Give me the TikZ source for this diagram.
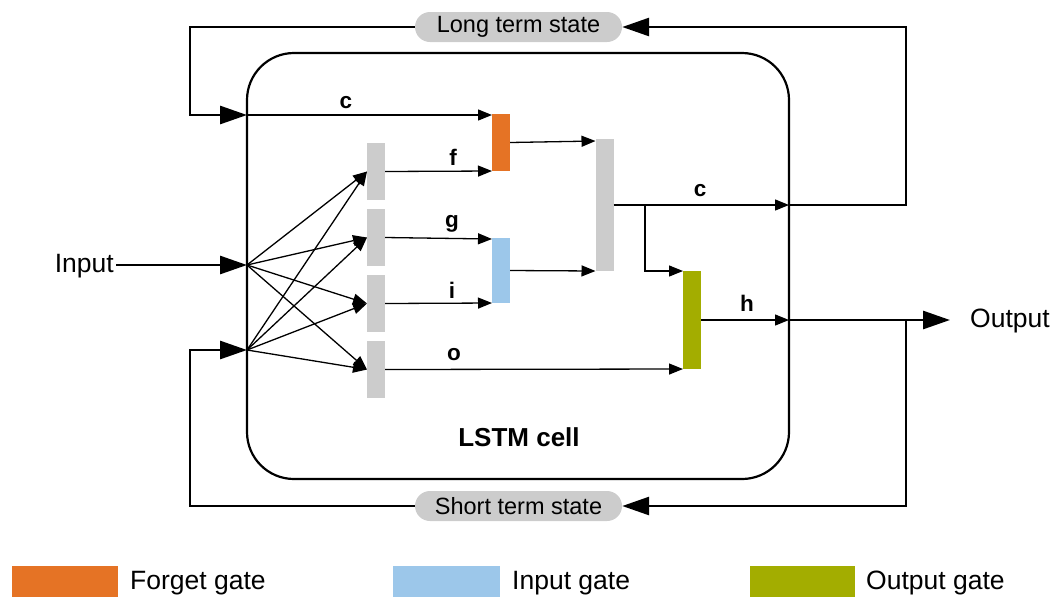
\documentclass[tikz,border=0pt]{standalone}
\usepackage{fontspec}
\setmainfont{Liberation Sans}
\usetikzlibrary{arrows.meta,calc}

\definecolor{gategray}{HTML}{CCCCCC}
\definecolor{forgetc}{HTML}{E57325}
\definecolor{inputc}{HTML}{9CC7EA}
\definecolor{outputc}{HTML}{A3AD00}

\begin{document}
\begin{tikzpicture}[x=1pt,y=-1pt,
  gatebox/.style={draw=none,inner sep=0pt,outer sep=0pt,minimum width=18pt},
  pill/.style={fill=gategray,draw=none,rounded corners=15pt,minimum width=207pt,
    minimum height=30pt,inner sep=0pt,font=\fontsize{23.5}{27}\selectfont},
  lbl/.style={inner sep=0pt,font=\fontsize{22.5}{25}\selectfont\bfseries},
  bigtext/.style={inner sep=2pt,font=\fontsize{26.5}{30}\selectfont},
  thickwire/.style={line width=2.8pt},
  thinwire/.style={line width=1.3pt,-{Triangle[length=14pt,width=11pt]}},
  bigarrow/.style={-{Triangle[length=27pt,width=18pt]}}
]
\useasboundingbox (0,0) rectangle (1056,598);

% the cell
\node[draw,line width=2.2pt,rounded corners=47pt,minimum width=542pt,
  minimum height=426pt,inner sep=0pt] (cell) at (518,266) {};
\node[lbl,font=\fontsize{26}{29}\selectfont\bfseries] (title) at (519,437) {LSTM cell};

% state pills
\node[pill] (lts) at (518.5,27) {Long term state};
\node[pill] (sts) at (518.5,506) {Short term state};

% entry / exit points on the cell border
\coordinate (cin) at (247,115);
\coordinate (xin) at (247,265);
\coordinate (hin) at (247,350);
\coordinate (cout) at (789,205);
\coordinate (hout) at (789,320);
\coordinate (tl) at (190,27);
\coordinate (bl) at (190,506);
\coordinate (tr) at (906,27);
\coordinate (br) at (906,506);
\coordinate (split) at (645,205);

% gates
\node[gatebox,fill=gategray,minimum height=57pt] (g1) at (376,171.5) {};
\node[gatebox,fill=gategray,minimum height=57pt] (g2) at (376,237.5) {};
\node[gatebox,fill=gategray,minimum height=57pt] (g3) at (376,303.5) {};
\node[gatebox,fill=gategray,minimum height=57pt] (g4) at (376,369.5) {};
\node[gatebox,fill=forgetc,minimum height=57pt] (F) at (501,142.5) {};
\node[gatebox,fill=inputc,minimum height=65pt] (I) at (501,270.5) {};
\node[gatebox,fill=gategray,minimum height=132pt] (C) at (604.5,205) {};
\node[gatebox,fill=outputc,minimum height=98pt] (O) at (692,320) {};

% input / output
\node[bigtext,anchor=east] (inp) at (116,266) {Input};
\node[bigtext,anchor=west] (outp) at (968,321) {Output};

% recurrent loops
\draw[thickwire,bigarrow] (lts.west) -- (tl) |- (cin);
\draw[thickwire,bigarrow] (cout) -| (tr) -- (lts.east);
\draw[thickwire,bigarrow] (br |- hout) -- (br) -- (sts.east);
\draw[thickwire,bigarrow] (sts.west) -- (bl) |- (hin);
\draw[thickwire,bigarrow] (inp.east |- xin) -- (xin);
\draw[thickwire,bigarrow,shorten >=18pt] (hout) -- (outp.west |- hout);

% fan-out into the four layers
\foreach \g in {g1,g2,g3,g4}{
  \draw[thinwire] (xin) -- (\g.west);
  \draw[thinwire] (hin) -- (\g.west);
}

% inner connections
\draw[thinwire] (cin) -- ([yshift=-1pt]F.north west);
\draw[thinwire] (g1.east) -- (F.south west);
\draw[thinwire] (g2.east) -- ([yshift=-1pt]I.north west);
\draw[thinwire] (g3.east) -- (I.south west);
\draw[thinwire] (g4.east) -- (O.south west);
\draw[thinwire] (F.east) -- ([yshift=-2pt]C.north west);
\draw[thinwire] (I.east) -- (C.south west);
\draw[thinwire] (C.east) -- (cout);
\draw[thinwire] (split) |- (O.north west);
\draw[thinwire] (O.east) -- (hout);

% wire labels
\node[lbl] (lc1) at (346,102.5) {c};
\node[lbl] (lf) at (453,157.5) {f};
\node[lbl] (lg) at (452,224) {g};
\node[lbl] (li) at (452,290) {i};
\node[lbl] (lo) at (454,355) {o};
\node[lbl] (lc2) at (700,191) {c};
\node[lbl] (lh) at (747,303.5) {h};

% legend
\node[gatebox,fill=forgetc,minimum width=106pt,minimum height=31pt] (kf) at (65,581.5) {};
\node[gatebox,fill=inputc,minimum width=107pt,minimum height=31pt] (ki) at (446.5,581.5) {};
\node[gatebox,fill=outputc,minimum width=105pt,minimum height=31pt] (ko) at (802.5,581.5) {};
\node[bigtext,anchor=west,inner sep=0pt] (kft) at (130,583) {Forget gate};
\node[bigtext,anchor=west,inner sep=0pt] (kit) at (512,583) {Input gate};
\node[bigtext,anchor=west,inner sep=0pt] (kot) at (866,583) {Output gate};
\end{tikzpicture}
\end{document}
